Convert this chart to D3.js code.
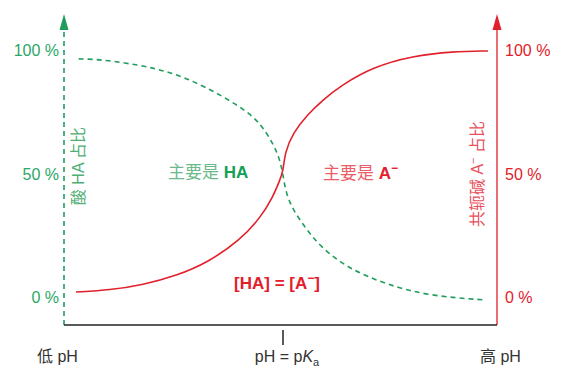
<!DOCTYPE html>
<html>
<head>
<meta charset="utf-8">
<script src="https://cdn.jsdelivr.net/npm/d3@7"></script>
<style>
  body { margin: 0; background: #fff; }
  text { font-family: "Liberation Sans", Arial, "Noto Sans CJK SC", sans-serif; }
</style>
</head>
<body>
<svg id="chart" width="587" height="381"></svg>
<script>
// pH offsets relative to pKa, and fraction (%)
const redPH  = [-3.0, -2.51, -2.03, -1.54, -1.10, -0.62, -0.33, -0.145, -0.043, 0, 0.029, 0.145, 0.348, 0.58, 0.83, 1.30, 1.88, 2.46, 2.97];
const redPct = [2.0, 2.8, 4.9, 8.7, 13.8, 23.1, 32.0, 40.5, 47.6, 50.6, 58.7, 66.4, 73.7, 79.8, 85.4, 93.1, 97.6, 99.4, 99.6];

const greenPH  = [-2.96, -2.65, -2.07, -1.64, -1.16, -0.58, -0.33, -0.145, -0.043, 0, 0.043, 0.145, 0.348, 0.536, 0.93, 1.51, 2.13, 2.93];
const greenPct = [96.4, 96.2, 93.9, 91.1, 85.8, 76.5, 70.4, 62.3, 55.5, 49.4, 42.1, 35.2, 27.1, 20.6, 11.7, 4.9, 0.4, -1.2];

const yTicks = [0, 50, 100];
const green = "#1f9d5c", red = "#e2202b";

const svg = d3.select("#chart");

const x = d3.scaleLinear().domain([-3, 3]).range([76, 490]);
const y = d3.scaleLinear().domain([0, 100]).range([297, 50]);

const axisBottom = 325, axisTop = 14;
const xLeft = 64, xRight = 497;

// left axis (dashed green) with arrow
svg.append("line")
    .attr("x1", xLeft).attr("x2", xLeft)
    .attr("y1", axisBottom).attr("y2", axisTop + 14)
    .attr("stroke", green).attr("stroke-width", 1.6)
    .attr("stroke-dasharray", "5,4");
svg.append("path")
    .attr("d", `M${xLeft - 4.5},${axisTop + 16} L${xLeft},${axisTop} L${xLeft + 4.5},${axisTop + 16} Z`)
    .attr("fill", green);

// right axis (solid red) with arrow
svg.append("line")
    .attr("x1", xRight).attr("x2", xRight)
    .attr("y1", axisBottom).attr("y2", axisTop + 14)
    .attr("stroke", red).attr("stroke-width", 1.3);
svg.append("path")
    .attr("d", `M${xRight - 4.5},${axisTop + 16} L${xRight},${axisTop} L${xRight + 4.5},${axisTop + 16} Z`)
    .attr("fill", red);

// bottom axis + pKa tick
svg.append("line")
    .attr("x1", xLeft).attr("x2", xRight)
    .attr("y1", axisBottom).attr("y2", axisBottom)
    .attr("stroke", "#222").attr("stroke-width", 1.3);
svg.append("line")
    .attr("x1", x(0)).attr("x2", x(0))
    .attr("y1", 330).attr("y2", 345)
    .attr("stroke", "#222").attr("stroke-width", 1.5);

// tick labels
svg.selectAll(".yl").data(yTicks).enter().append("text")
    .attr("x", 59).attr("y", d => y(d) + 6)
    .attr("text-anchor", "end")
    .attr("font-size", 16).attr("fill", "#2aa866")
    .text(d => d + " %");
svg.selectAll(".yr").data(yTicks).enter().append("text")
    .attr("x", 505).attr("y", d => y(d) + 6)
    .attr("font-size", 16).attr("fill", red)
    .text(d => d + " %");

// curves
const line = d3.line()
    .x(d => x(d[0])).y(d => y(d[1]))
    .curve(d3.curveBasis);

svg.append("path")
    .datum(greenPH.map((v, i) => [v, greenPct[i]]))
    .attr("d", line)
    .attr("fill", "none").attr("stroke", green)
    .attr("stroke-width", 1.6).attr("stroke-dasharray", "5,4");

svg.append("path")
    .datum(redPH.map((v, i) => [v, redPct[i]]))
    .attr("d", line)
    .attr("fill", "none").attr("stroke", red)
    .attr("stroke-width", 1.6);

// axis titles
svg.append("text")
    .attr("transform", "translate(84,166) rotate(-90)")
    .attr("text-anchor", "middle")
    .attr("font-size", 16).attr("fill", "#4fae74")
    .text("酸 HA 占比");

const rt = svg.append("text")
    .attr("transform", "translate(483,174) rotate(-90)")
    .attr("text-anchor", "middle")
    .attr("font-size", 16).attr("fill", "#e8505a");
rt.append("tspan").text("共轭碱 A");
rt.append("tspan").attr("dy", -6).attr("font-size", 11).text("−");
rt.append("tspan").attr("dy", 6).text(" 占比");

// region labels
const t1 = svg.append("text")
    .attr("x", 168).attr("y", 178)
    .attr("font-size", 17);
t1.append("tspan").attr("fill", "#6cb98a").text("主要是 ");
t1.append("tspan").attr("fill", "#14a055").attr("font-weight", "bold").text("HA");

const t2 = svg.append("text")
    .attr("x", 323).attr("y", 179)
    .attr("font-size", 17);
t2.append("tspan").attr("fill", "#ea5c66").text("主要是 ");
t2.append("tspan").attr("fill", red).attr("font-weight", "bold").text("A");
t2.append("tspan").attr("fill", red).attr("font-weight", "bold")
    .attr("dy", -7).attr("font-size", 12).text("−");

const t3 = svg.append("text")
    .attr("x", 277).attr("y", 289)
    .attr("text-anchor", "middle")
    .attr("font-size", 17).attr("font-weight", "bold").attr("fill", red);
t3.append("tspan").text("[HA] = [A");
t3.append("tspan").attr("dy", -7).attr("font-size", 12).text("−");
t3.append("tspan").attr("dy", 7).text("]");

// bottom labels
svg.append("text")
    .attr("x", 37).attr("y", 362)
    .attr("font-size", 16).attr("fill", "#333")
    .text("低 pH");

const pk = svg.append("text")
    .attr("x", x(0) + 4).attr("y", 362)
    .attr("text-anchor", "middle")
    .attr("font-size", 16).attr("fill", "#333");
pk.append("tspan").text("pH = p");
pk.append("tspan").attr("font-style", "italic").text("K");
pk.append("tspan").attr("dy", 4).attr("font-size", 11).text("a");

svg.append("text")
    .attr("x", 480).attr("y", 362)
    .attr("font-size", 16).attr("fill", "#333")
    .text("高 pH");
</script>
</body>
</html>
